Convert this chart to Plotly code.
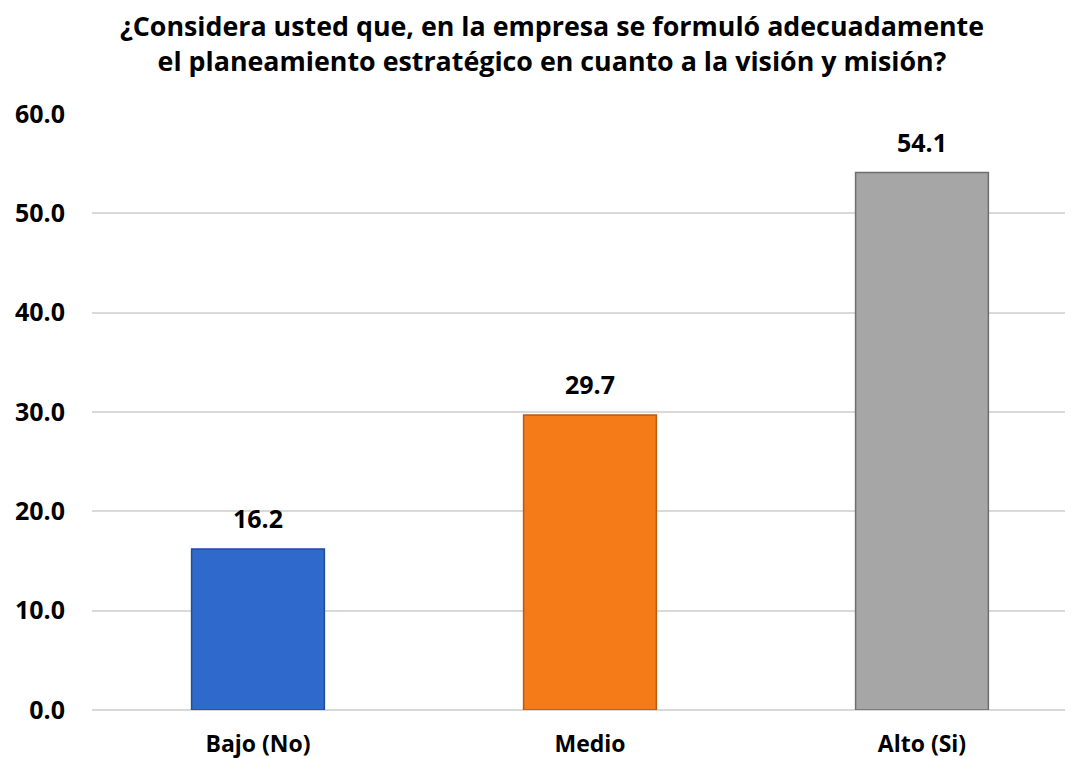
import plotly.graph_objects as go

categories = ["Bajo (No)", "Medio", "Alto (Si)"]
values = [16.2, 29.7, 54.1]
bar_colors = ["#3069CC", "#F57A18", "#A6A6A6"]
edge_colors = ["#1F4C99", "#B85A10", "#6E6E6E"]
y_ticks = [0, 10, 20, 30, 40, 50, 60]

FONT = "Open Sans"

fig = go.Figure(
    go.Bar(
        x=categories,
        y=values,
        width=0.4,
        marker=dict(color=bar_colors, line=dict(color=edge_colors, width=1.5)),
        hoverinfo="x+y",
    )
)

for cat, val in zip(categories, values):
    fig.add_annotation(
        x=cat,
        y=val,
        text=f"{val:.1f}",
        showarrow=False,
        yanchor="bottom",
        yshift=12,
        font=dict(family=FONT, size=25, color="#000000", weight="bold"),
    )

# the page body keeps its default 8px margin, so margins are trimmed by 8px
fig.update_layout(
    width=1073,
    height=758,
    paper_bgcolor="white",
    plot_bgcolor="white",
    showlegend=False,
    margin=dict(l=84, r=0, t=106, b=56),
    title=dict(
        text="¿Considera usted que, en la empresa se formuló adecuadamente<br>"
        "el planeamiento estratégico en cuanto a la visión y misión?",
        x=0.507,
        xref="container",
        xanchor="center",
        yref="container",
        y=0.963,
        yanchor="middle",
        font=dict(family=FONT, size=26.8, color="#000000", weight="bold"),
    ),
)
fig.update_xaxes(
    range=[-0.5, 2.479],
    showgrid=False,
    showline=False,
    ticks="",
    ticklabelstandoff=18,
    tickfont=dict(family=FONT, size=23, color="#000000", weight="bold"),
)
fig.update_yaxes(
    range=[0, 60],
    tickvals=y_ticks,
    ticktext=[f"{v:.1f}" for v in y_ticks],
    showgrid=True,
    gridcolor="#D9D9D9",
    gridwidth=2,
    zeroline=True,
    zerolinecolor="#D9D9D9",
    zerolinewidth=2,
    ticklabelstandoff=26,
    tickfont=dict(family=FONT, size=25, color="#000000", weight="bold"),
)

fig.write_html("out.html")
